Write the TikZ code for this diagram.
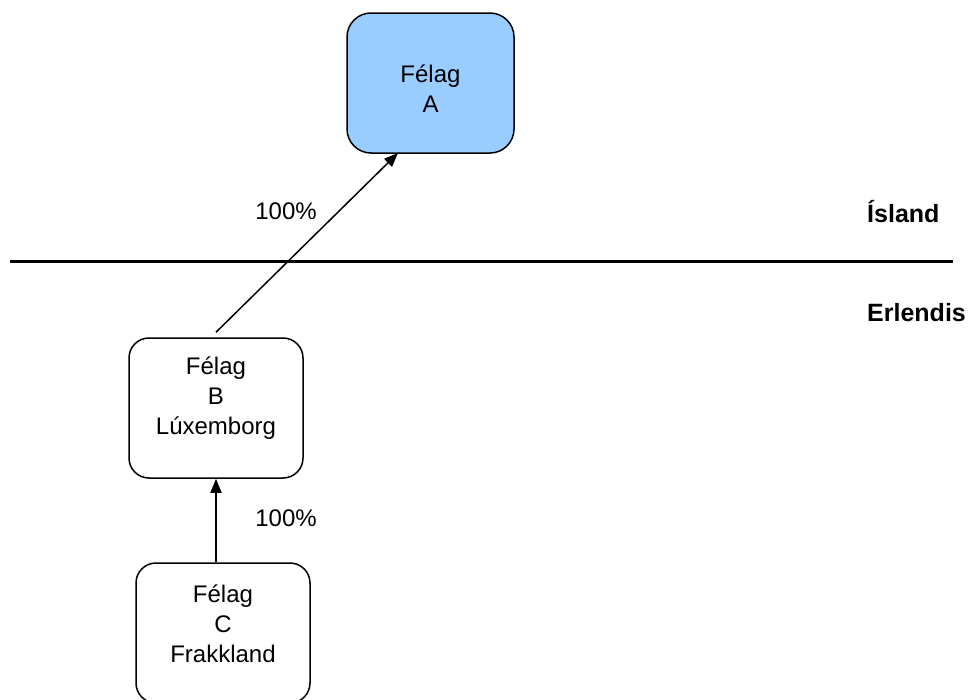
\documentclass[tikz,border=0pt]{standalone}
\usepackage{fontspec}
\setmainfont{Liberation Sans}
\usetikzlibrary{arrows.meta}
\definecolor{boxblue}{HTML}{99CCFF}
\begin{document}
\begin{tikzpicture}[x=1pt,y=1pt,
  boxnode/.style={draw=black,line width=1.5pt,rounded corners=20pt,inner sep=0pt},
  txt/.style={font=\fontsize{24}{30}\selectfont,align=center,inner sep=0pt},
  lbl/.style={font=\fontsize{24}{30}\selectfont,inner sep=0pt},
  bold/.style={font=\fontsize{25}{30}\selectfont\bfseries,inner sep=0pt,anchor=west},
  arr/.style={line width=1.5pt,-{Triangle[length=14pt,width=11pt]}}]
\clip (0,0) rectangle (974,-699);
\useasboundingbox (0,0) rectangle (974,-699);
% boxes
\node[boxnode,fill=boxblue,rounded corners=24pt,minimum width=167pt,minimum height=140pt] (A) at (430.5,-83) {};
\node[boxnode,fill=white,minimum width=174pt,minimum height=140pt] (B) at (216,-408) {};
\node[boxnode,fill=white,minimum width=174pt,minimum height=140pt] (C) at (223,-633) {};
% texts
\node[txt] (At) at (430.5,-88.5) {Félag\\A};
\node[txt] (Bt) at (216,-398) {Félag\\B\\Lúxemborg};
\node[txt] (Ct) at (223,-624) {Félag\\C\\Frakkland};
% divider
\coordinate (L) at (10,-261);
\coordinate (R) at (953,-261);
\draw[line width=3pt] (L) -- (R);
\node[bold] (isl) at (867,-212) {Ísland};
\node[bold] (erl) at (867,-313) {Erlendis};
% arrows
\coordinate (atip) at (398,-153);
\coordinate (bstart) at ([yshift=5pt]B.north);
\draw[arr] (bstart) -- (atip);
\draw[arr] (C.north -| B.south) -- (B.south);
\node[lbl] (p1) at (286,-211) {100\%};
\node[lbl] (p2) at (286,-518) {100\%};
\end{tikzpicture}
\end{document}
